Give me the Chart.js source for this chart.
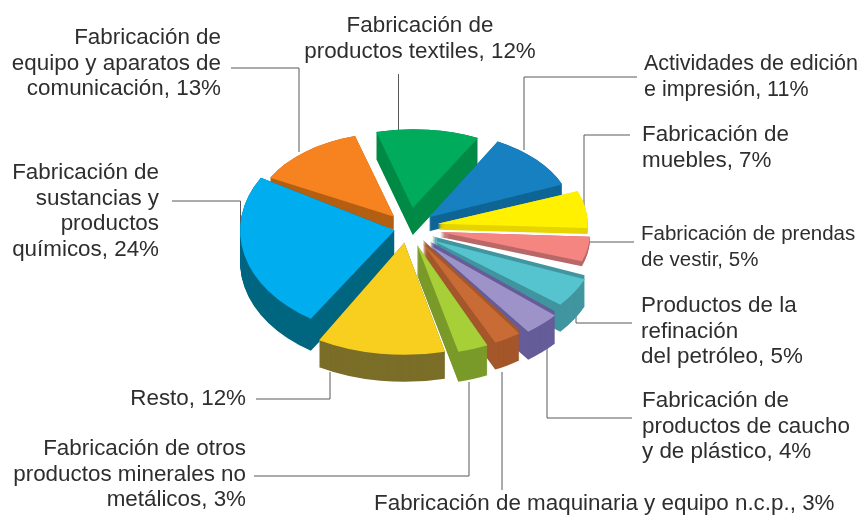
<!DOCTYPE html>
<html lang="es">
<head>
<meta charset="UTF-8">
<title>Fabricación por actividad</title>
<style>
    html, body { margin: 0; padding: 0; background: #fff; }
    canvas { display: block; }
</style>
</head>
<body>
<canvas id="pie" width="860" height="515"></canvas>
<script src="https://cdn.jsdelivr.net/npm/chart.js"></script>
<script>
// clockwise, starting at the blue slice
const categories = [
    ['Actividades de edición', 'e impresión'],
    ['Fabricación de', 'muebles'],
    ['Fabricación de prendas', 'de vestir'],
    ['Productos de la', 'refinación', 'del petróleo'],
    ['Fabricación de', 'productos de caucho', 'y de plástico'],
    ['Fabricación de maquinaria y equipo n.c.p.'],
    ['Fabricación de otros', 'productos minerales no', 'metálicos'],
    ['Resto'],
    ['Fabricación de', 'sustancias y', 'productos', 'químicos'],
    ['Fabricación de', 'equipo y aparatos de', 'comunicación'],
    ['Fabricación de', 'productos textiles']
];
const values = [11, 7, 5, 5, 4, 3, 3, 12, 24, 13, 12];

const topColors = ['#1680c0', '#fff100', '#f58581', '#55c4cf', '#9d93c8', '#c96b35', '#a6cf38', '#f8cf1f', '#00aeef', '#f68220', '#00ab5b'];
const sideColors = ['#0f6596', '#e6d400', '#b96868', '#40959f', '#655c99', '#a4572a', '#7a9a2a', '#7b6e28', '#006680', '#b45f12', '#008a45'];

// look of each slice: it is not a true projection, so every slice gets its own tilt
const explode = [19, 23, 25.6, 20, 22, 16, 6, 12, 21, 33, 44];
const radiusScale = [0.96, 1, 1, 1.1, 1.1, 1.12, 1.133, 1.15, 1.03, 0.933, 0.953];
const flatten = [0.6, 0.6, 0.6, 0.62, 0.65, 0.65, 0.65, 0.65, 0.68, 0.6, 0.55];
const depth = [14, 6, 5, 27, 28, 27, 30, 27, 32, 13, 27];
const rim = [0, 0, 0, 4, 4, 4, 0, 0, 0, 0, 0];
const nudgeX = [0, 0, 0, 0, 0, 0, 0, -9, 0, 0, -7];
const nudgeY = [-7, -6, -3, 2, 3, 3, 9, 3, -5, 0, 0];
const turn = [0, 0, -1.5, 0, 0, 0, 0, 0, 3, 0, 0];
const wallOrder = [10, 9, 0, 1, 2, 3, 4, 5, 6, 8, 7];
const centerY = 232;

const total = values.reduce((a, b) => a + b, 0);

// label text block: x, first baseline, alignment, font size
const labelPos = [
    [644, 70, 'left', 21.5], [642, 141, 'left', 22.4], [641, 240, 'left', 20.5], [641, 312, 'left', 22.4],
    [642, 407, 'left', 22.4], [374, 510, 'left', 22.4], [246, 455, 'right', 22.4], [246, 405, 'right', 22.4],
    [159, 179, 'right', 22.4], [221, 44, 'right', 22.4], [420, 32, 'center', 22.4]
];
// leader lines
const leaders = [
    [[637, 77], [524, 77], [524, 150]],
    [[630, 135], [584, 135], [584, 206]],
    [[634, 242], [589, 242]],
    [[632, 323], [576, 323], [576, 300]],
    [[632, 418], [547, 418], [547, 345]],
    [[502, 490], [502, 372]],
    [[254, 476], [469, 476], [469, 382]],
    [[256, 399], [330, 399], [330, 372]],
    [[172, 201], [240.5, 201], [240.5, 238]],
    [[231, 68], [299, 68], [299, 152]],
    [[398.5, 74], [398.5, 130]]
];

function drawSlice(ctx, arc, i, shift) {
    ctx.save();
    ctx.translate(nudgeX[i], centerY + nudgeY[i] + shift);
    ctx.scale(1, flatten[i]);
    ctx.translate(0, -arc.y);
    arc.draw(ctx);
    ctx.restore();
}

const pie3d = {
    id: 'pie3d',
    afterDatasetUpdate(chart) {
        chart.getDatasetMeta(0).data.forEach((arc, i) => {
            // ArcElement moves by offset/4 and also widens thin arcs, take that back out
            const fix = 1 - Math.sin(Math.min(Math.PI, values[i] / total * 2 * Math.PI));
            arc.outerRadius = arc.outerRadius * radiusScale[i] - explode[i] * fix;
            arc.startAngle += turn[i] * Math.PI / 180;
            arc.endAngle += turn[i] * Math.PI / 180;
        });
    },
    beforeDraw(chart) {
        const ctx = chart.ctx;
        ctx.save();
        ctx.strokeStyle = '#58585a';
        ctx.lineWidth = 1;
        leaders.forEach(pts => {
            ctx.beginPath();
            pts.forEach((p, k) => k ? ctx.lineTo(p[0], p[1]) : ctx.moveTo(p[0], p[1]));
            ctx.stroke();
        });
        ctx.restore();
    },
    beforeDatasetsDraw(chart) {
        const ctx = chart.ctx;
        const arcs = chart.getDatasetMeta(0).data;
        // side walls: the same arc stacked in a darker colour
        wallOrder.forEach(i => {
            const arc = arcs[i];
            const opts = arc.options;
            arc.options = Object.assign({}, opts, { backgroundColor: sideColors[i] });
            for (let d = depth[i]; d >= -rim[i]; d--) {
                drawSlice(ctx, arc, i, d);
            }
            arc.options = opts;
        });
        arcs.forEach((arc, i) => drawSlice(ctx, arc, i, 0));
        return false;
    },
    afterDraw(chart) {
        const ctx = chart.ctx;
        ctx.save();
        ctx.fillStyle = '#2f2d2e';
        ctx.textBaseline = 'alphabetic';
        categories.forEach((lines, i) => {
            const [x, y, align, size] = labelPos[i];
            ctx.font = size + 'px "Liberation Sans"';
            ctx.textAlign = align;
            lines.forEach((line, k) => {
                const last = k === lines.length - 1;
                ctx.fillText(last ? line + ', ' + values[i] + '%' : line, x, y + k * 25.5);
            });
        });
        ctx.restore();
    }
};

new Chart(document.getElementById('pie'), {
    type: 'pie',
    data: {
        labels: categories,
        datasets: [{
            data: values,
            backgroundColor: topColors,
            borderWidth: 0,
            offset: explode.map(e => e * 4),
            radius: 150,
            rotation: 28
        }]
    },
    options: {
        responsive: false,
        animation: false,
        layout: { padding: { right: 30 } },
        plugins: { legend: { display: false }, tooltip: { enabled: false } }
    },
    plugins: [pie3d]
});
</script>
</body>
</html>
